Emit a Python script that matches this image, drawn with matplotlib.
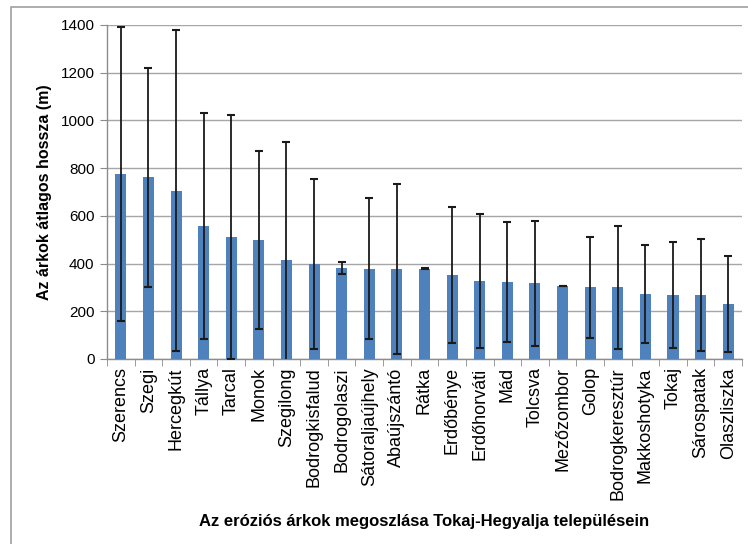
import matplotlib
matplotlib.use("Agg")
import matplotlib.pyplot as plt
from matplotlib.patches import Rectangle
import numpy as np

plt.rcParams['font.family'] = ['Liberation Sans', 'DejaVu Sans']

towns = ["Szerencs", "Szegi", "Hercegkút", "Tállya", "Tarcal", "Monok", "Szegilong",
         "Bodrogkisfalud", "Bodrogolaszi", "Sátoraljaújhely", "Abaújszántó", "Rátka",
         "Erdőbénye", "Erdőhorváti", "Mád", "Tolcsva", "Mezőzombor", "Golop",
         "Bodrogkeresztúr", "Makkoshotyka", "Tokaj", "Sárospatak", "Olaszliszka"]
mean_length = [775, 761, 705, 558, 512, 499, 416, 398, 383, 378, 377, 378,
               351, 328, 323, 318, 306, 300, 300, 272, 269, 269, 230]
std_dev = [616, 459, 672, 473, 510, 372, 492, 355, 25, 295, 358, 2,
           285, 280, 250, 262, 2, 211, 258, 205, 223, 235, 200]
y_ticks = [0, 200, 400, 600, 800, 1000, 1200, 1400]

W, H = 748, 544
fig = plt.figure(figsize=(W / 100, H / 100), dpi=100)
ax = fig.add_axes([107 / W, 1 - 359 / H, (742 - 107) / W, (359 - 25) / H])

x = np.arange(len(towns))
ax.bar(x, mean_length, width=0.4, color="#4F81BD", zorder=3)
ax.errorbar(x, mean_length, yerr=std_dev, fmt="none", ecolor="#1a1a1a",
            elinewidth=1.3, capsize=3.2, capthick=1.5, zorder=4)

ax.set_xlim(-0.5, len(towns) - 0.5)
ax.set_ylim(0, 1400)
ax.set_yticks(y_ticks)
ax.yaxis.grid(True, color="#a6a6a6", linewidth=1.0, zorder=0)
ax.set_axisbelow(True)

for s in ["top", "right"]:
    ax.spines[s].set_visible(False)
for s in ["left", "bottom"]:
    ax.spines[s].set_color("#8c8c8c")
    ax.spines[s].set_linewidth(1.0)

ax.set_xticks(x)
ax.set_xticklabels(towns, rotation=90, fontsize=13)
ax.tick_params(axis="x", length=0, pad=6)
ax.set_xticks(np.arange(len(towns) + 1) - 0.5, minor=True)
ax.tick_params(axis="x", which="minor", length=5, color="#8c8c8c", direction="out")
ax.tick_params(axis="y", length=5, color="#8c8c8c", direction="out", labelsize=11, pad=4)

ax.set_ylabel("Az árkok átlagos hossza (m)", fontsize=11.5, fontweight="bold", labelpad=6)
ax.set_xlabel("Az eróziós árkok megoszlása Tokaj-Hegyalja településein",
              fontsize=12, fontweight="bold", labelpad=10)

fig.patches.append(Rectangle((10.5 / W, -0.05), 1.2, 1 - 7 / H + 0.05,
                             transform=fig.transFigure, fill=False,
                             edgecolor="#a0a0a0", linewidth=1.2))

fig.savefig("out.png", dpi=100)
